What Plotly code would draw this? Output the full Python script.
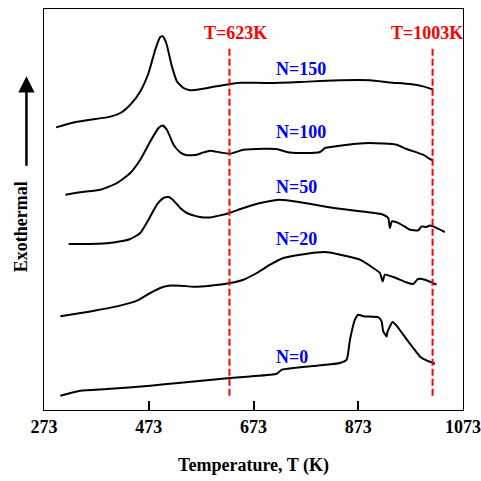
import plotly.graph_objects as go

# ---- data ----
t150 = [296.1, 329.6, 361.5, 393.3, 418.7, 437.7, 456.8, 472.6, 485.4, 494.9, 499.7, 506.4, 517.2, 526.8,
        539.4, 552.1, 571.2, 599.8, 628.4, 647.5, 698.4, 761.9, 824.8, 895.3, 933.4, 971.6, 996.9, 1016.4]
s150 = [282.6, 287.6, 290.3, 292.6, 297.0, 305.3, 318.6, 337.0, 360.3, 373.0, 373.8, 367.0, 343.6, 328.6,
        322.0, 319.8, 320.8, 323.6, 326.1, 327.3, 327.0, 328.0, 329.6, 329.8, 327.6, 326.0, 323.6, 320.3]

t100 = [313.8, 342.4, 380.5, 412.4, 437.7, 456.8, 475.9, 491.7, 499.3, 507.7, 520.3, 533.1, 545.8, 564.9,
        577.5, 590.3, 609.3, 628.4, 653.8, 691.9, 717.4, 736.5, 761.9, 800.0, 809.5, 838.1, 870.0, 895.3,
        946.2, 965.3, 996.9, 1009.7, 1016.4]
s100 = [215.3, 217.8, 220.3, 227.0, 237.0, 250.3, 268.6, 282.0, 284.6, 280.3, 265.3, 257.6, 254.8, 255.3,
        257.6, 259.3, 257.6, 256.3, 260.3, 261.3, 261.0, 258.0, 257.0, 258.0, 262.0, 264.3, 266.3, 267.0,
        265.3, 261.0, 255.3, 251.0, 249.6]

t50 = [320.1, 361.5, 405.9, 437.7, 456.8, 472.6, 488.6, 501.2, 510.8, 520.3, 533.1, 545.8, 564.9, 577.5,
       590.3, 609.3, 628.4, 653.8, 685.6, 723.7, 761.9, 825.4, 895.3, 920.7, 930.2, 933.4, 937.3, 946.8,
       962.1, 971.6, 987.4, 993.9, 1003.4, 1009.7, 1016.0, 1038.3]
s50 = [166.0, 166.0, 167.6, 171.0, 177.0, 190.3, 205.3, 212.0, 213.0, 209.6, 202.0, 197.0, 193.6, 192.6,
       192.6, 194.6, 197.3, 202.0, 207.0, 210.3, 207.8, 202.0, 197.6, 195.3, 192.0, 182.0, 188.6, 187.6,
       183.3, 180.3, 179.6, 183.6, 183.0, 184.6, 183.6, 178.0]

t20 = [304.3, 361.5, 412.4, 450.5, 475.9, 494.9, 510.8, 533.1, 558.4, 590.3, 628.4, 653.8, 679.3, 704.7,
       730.0, 761.9, 793.7, 819.1, 838.1, 876.2, 901.6, 914.4, 919.5, 923.9, 939.7, 965.3, 977.9, 987.4,
       1000.2, 1013.0, 1022.5]
s20 = [93.8, 98.6, 103.6, 109.3, 117.0, 122.0, 124.3, 124.3, 123.3, 124.3, 127.0, 130.3, 137.0, 145.3,
       152.0, 155.3, 157.6, 157.6, 155.3, 150.3, 142.0, 137.0, 128.6, 135.3, 133.0, 127.6, 126.0, 131.0,
       130.3, 127.6, 125.3]

t0 = [304.3, 342.4, 393.3, 475.9, 539.4, 628.4, 666.5, 717.4, 727.0, 749.1, 793.7, 838.1, 850.9, 857.2,
      866.7, 873.0, 882.5, 911.1, 917.6, 920.7, 927.2, 928.3, 933.4, 938.6, 946.2, 958.8, 977.9, 990.6,
      1003.4, 1019.3]
s0 = [14.3, 19.3, 21.0, 24.3, 27.6, 32.0, 33.6, 36.3, 40.3, 42.0, 44.3, 47.0, 50.3, 70.3,
      90.3, 95.3, 93.8, 92.8, 88.6, 78.6, 73.6, 77.0, 83.6, 88.0, 84.3, 75.3, 62.0, 53.6,
      49.6, 46.3]

series_names = ["N=150", "N=100", "N=50", "N=20", "N=0"]
series_t = [t150, t100, t50, t20, t0]
series_s = [s150, s100, s50, s20, s0]
label_t = [763.8, 763.8, 755.2, 755.2, 746.6]
label_s = [341.3, 278.3, 223.3, 171.3, 53.3]

vline_t = [627.1, 1014.9]
vline_labels = ["T=623K", "T=1003K"]
vline_label_t = [637.9, 1004.0]
vline_span = [14.3, 364.3]
vline_label_s = 377.3

x_ticks = [273, 473, 673, 873, 1073]
x_range = [273, 1073]
y_range = [0, 401]

FONT = "Liberation Serif"
FS = 18

fig = go.Figure()
for name, t, s in zip(series_names, series_t, series_s):
    fig.add_trace(go.Scatter(x=t, y=s, mode="lines", name=name,
                             line=dict(color="black", width=2, shape="spline", smoothing=0.5),
                             showlegend=False))

for xv in vline_t:
    fig.add_trace(go.Scatter(x=[xv, xv], y=vline_span, mode="lines", showlegend=False,
                             line=dict(color="#FF0000", width=2, dash="7px,3px")))

annotations = []
for name, lt, ls in zip(series_names, label_t, label_s):
    annotations.append(dict(x=lt, y=ls, xref="x", yref="y", text=name, showarrow=False,
                            xanchor="center", yanchor="middle",
                            font=dict(family=FONT, size=FS, color="#0000FF", weight="bold")))
for lab, lt in zip(vline_labels, vline_label_t):
    annotations.append(dict(x=lt, y=vline_label_s, xref="x", yref="y", text=lab, showarrow=False,
                            xanchor="center", yanchor="middle",
                            font=dict(family=FONT, size=FS, color="#FF0000", weight="bold")))

# y-axis caption with upward arrow
annotations.append(dict(x=-0.055, y=0.458, xref="paper", yref="paper", text="Exothermal",
                        textangle=-90, showarrow=False, xanchor="center", yanchor="middle",
                        font=dict(family=FONT, size=FS, color="black", weight="bold")))
annotations.append(dict(x=-0.0419, y=0.832, xref="paper", yref="paper", text="",
                        showarrow=True, ax=0, ay=91, arrowhead=2, arrowsize=1.3,
                        arrowwidth=2.5, arrowcolor="black", standoff=0))

fig.update_layout(
    width=481, height=481,
    margin=dict(l=44, r=18, t=9, b=71),
    paper_bgcolor="white", plot_bgcolor="white",
    annotations=annotations,
    xaxis=dict(range=x_range, tickvals=x_ticks, ticktext=[str(v) for v in x_ticks],
               ticks="inside", ticklen=9, tickwidth=1.5, tickcolor="black",
               showline=True, linecolor="black", linewidth=1.2, mirror=True,
               showgrid=False, zeroline=False, automargin=False,
               tickfont=dict(family=FONT, size=FS, color="black", weight="bold"),
               title=dict(text="Temperature, T (K)", standoff=22,
                          font=dict(family=FONT, size=FS, color="black", weight="bold"))),
    yaxis=dict(range=y_range, showticklabels=False, ticks="", automargin=False,
               showline=True, linecolor="black", linewidth=1.2, mirror=True,
               showgrid=False, zeroline=False),
)

fig.write_html("out.html")
